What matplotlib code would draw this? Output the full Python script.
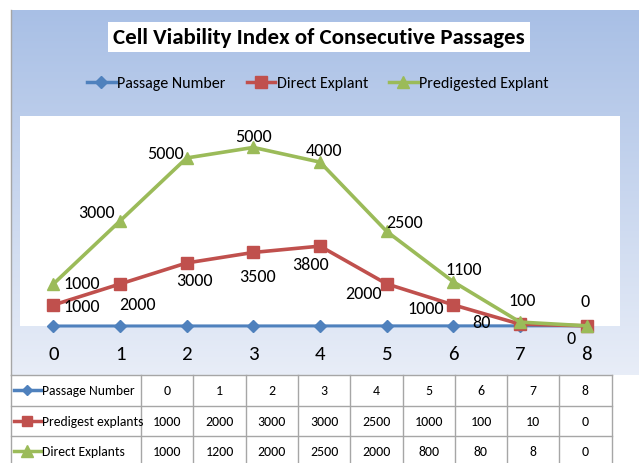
import numpy as np
import matplotlib
matplotlib.use("Agg")
import matplotlib.pyplot as plt
from matplotlib.lines import Line2D

# chart data (stacked line chart, labels show each series' own value)
passages = [0, 1, 2, 3, 4, 5, 6, 7, 8]
direct_explant = [1000, 2000, 3000, 3500, 3800, 2000, 1000, 80, 0]
predigested_explant = [1000, 3000, 5000, 5000, 4000, 2500, 1100, 100, 0]

# data table under the chart
table_headers = ["Passage Number", "Predigest explants", "Direct Explants"]
table_passage = ["0", "1", "2", "3", "4", "5", "6", "7", "8"]
table_predigest = ["1000", "2000", "3000", "3000", "2500", "1000", "100", "10", "0"]
table_direct = ["1000", "1200", "2000", "2500", "2000", "800", "80", "8", "0"]

series_names = ["Passage Number", "Direct Explant", "Predigested Explant"]

BLUE = "#4f81bd"
RED = "#c0504d"
GREEN = "#9bbb59"

plt.rcParams['font.family'] = ['Carlito', 'Liberation Sans', 'DejaVu Sans']

W, H = 639, 464
fig = plt.figure(figsize=(W / 100, H / 100), dpi=100)
fig.patch.set_facecolor("white")

def fx(px):
    return px / W

def fy(py):
    return 1 - py / H

# --- gradient background of the chart area
bg = fig.add_axes([fx(11), fy(376), 1 - fx(11), fy(11) - fy(376)], zorder=0)
top = np.array([0.66, 0.75, 0.90])
bot = np.array([0.91, 0.93, 0.97])
t = np.linspace(0, 1, 200)[:, None]
grad = top[None, :] * (1 - t) + bot[None, :] * t
bg.imshow(grad[:, None, :], aspect="auto", extent=[0, 1, 0, 1])
bg.set_axis_off()
fig.add_artist(Line2D([fx(11), fx(11)], [fy(11), fy(376)], color="#a6a6a6", lw=1, zorder=1))

# --- title
fig.text(fx(319), fy(38), "Cell Viability Index of Consecutive Passages", ha="center", va="center",
         fontsize=16.5, fontweight="bold", color="black", zorder=5,
         bbox=dict(facecolor="white", edgecolor="none", pad=3.5))

# --- main plot
ax = fig.add_axes([fx(20), fy(327), fx(620) - fx(20), fy(117) - fy(327)], zorder=2)
ax.set_facecolor("white")

base = np.array(passages, dtype=float)
red_y = base + np.array(direct_explant)
green_y = red_y + np.array(predigested_explant)

ax.plot(passages, base, color=BLUE, lw=2.2, marker="D", ms=6, clip_on=False, zorder=3)
ax.plot(passages, red_y, color=RED, lw=2.6, marker="s", ms=8, clip_on=False, zorder=4)
ax.plot(passages, green_y, color=GREEN, lw=2.6, marker="^", ms=9, clip_on=False, zorder=5)

red_off = [(28, -1), (17, -20), (8, -17), (4, -24), (-10, -18), (-23, -9), (-28, -3), (-39, 2), (-16, -12)]
green_off = [(28, 1), (-24, 9), (-21, 5), (0, 11), (4, 12), (18, 9), (10, 13), (2, 22), (-2, 25)]
for i, x in enumerate(passages):
    ax.annotate(str(direct_explant[i]), (x, red_y[i]), xytext=red_off[i], textcoords="offset pixels",
                ha="center", va="center", fontsize=13, zorder=6, annotation_clip=False)
    ax.annotate(str(predigested_explant[i]), (x, green_y[i]), xytext=green_off[i], textcoords="offset pixels",
                ha="center", va="center", fontsize=13, zorder=6, annotation_clip=False)

ax.set_xlim(-0.5, 8.5)
ax.set_ylim(0, 10000)
ax.set_yticks([])
ax.set_xticks(passages)
ax.set_xticklabels([str(p) for p in passages], fontsize=15)
ax.tick_params(axis="x", length=0, pad=14)
for s in ax.spines.values():
    s.set_visible(False)

# --- legend
leg_handles = [
    Line2D([], [], color=BLUE, lw=2.5, marker="D", ms=6),
    Line2D([], [], color=RED, lw=2.5, marker="s", ms=8),
    Line2D([], [], color=GREEN, lw=2.5, marker="^", ms=9),
]
fig.legend(leg_handles, series_names, loc="center", bbox_to_anchor=(fx(318), fy(84)), ncol=3,
           frameon=False, fontsize=11.5, handlelength=1.8, handletextpad=0.1, columnspacing=1.3)

# --- data table
col_edges = [11, 141, 193.4, 245.7, 298, 350.3, 402.6, 455, 507, 559, 611.7]
row_edges = [376, 406.5, 436.5, 467]
lc = "#a6a6a6"
for y in row_edges:
    fig.add_artist(Line2D([fx(11), fx(611.7)], [fy(y), fy(y)], color=lc, lw=1, zorder=6))
for x in col_edges:
    fig.add_artist(Line2D([fx(x), fx(x)], [fy(376), fy(467)], color=lc, lw=1, zorder=6))

rows = [table_passage, table_predigest, table_direct]
colors = [BLUE, RED, GREEN]
markers = ["D", "s", "^"]
msz = [5, 7, 8]
for r in range(3):
    yc = (row_edges[r] + row_edges[r + 1]) / 2
    fig.add_artist(Line2D([fx(14), fx(41)], [fy(yc), fy(yc)], color=colors[r], lw=2.5, zorder=7))
    fig.add_artist(Line2D([fx(27.5)], [fy(yc)], color=colors[r], marker=markers[r], ms=msz[r], zorder=7))
    fig.text(fx(42), fy(yc), table_headers[r], ha="left", va="center", fontsize=9.8, zorder=7)
    for c in range(9):
        xc = (col_edges[c + 1] + col_edges[c + 2]) / 2
        fig.text(fx(xc), fy(yc), rows[r][c], ha="center", va="center", fontsize=10, zorder=7)

fig.savefig("out.png", dpi=100)
